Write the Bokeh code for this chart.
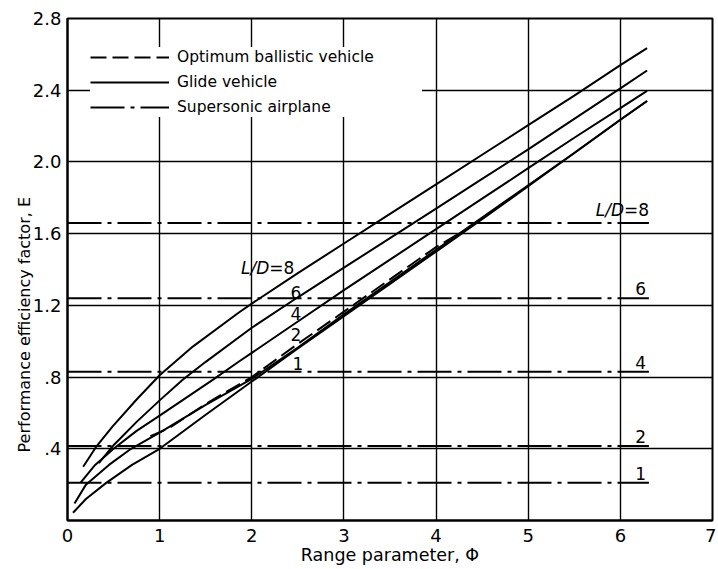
from bokeh.plotting import figure
from bokeh.models import Range1d, FixedTicker, Legend, LegendItem, Label, ColumnDataSource, Title
from bokeh.embed import file_html
from bokeh.resources import INLINE

# ---------------- data ----------------
# Glide vehicle curves, one per L/D
g8_phi = [0.17, 0.31, 0.49, 0.75, 1.0, 1.36, 1.86, 2.0, 2.5, 3.0, 3.5, 4.0, 4.5, 5.0, 5.5, 6.0, 6.29]
g8_E = [0.30, 0.41, 0.525, 0.675, 0.81, 0.97, 1.16, 1.21, 1.38, 1.545, 1.71, 1.875, 2.04, 2.205, 2.37, 2.54, 2.635]

g6_phi = [0.34, 0.5, 0.75, 1.0, 1.25, 1.5, 2.0, 2.5, 3.0, 3.5, 4.0, 4.5, 5.0, 5.5, 6.0, 6.29]
g6_E = [0.32, 0.42, 0.55, 0.67, 0.785, 0.885, 1.075, 1.245, 1.41, 1.575, 1.74, 1.905, 2.07, 2.24, 2.41, 2.51]

g4_phi = [0.14, 0.3, 0.5, 0.75, 1.0, 1.58, 1.865, 2.0, 2.5, 3.0, 3.5, 4.0, 4.5, 5.0, 5.5, 6.0, 6.29]
g4_E = [0.21, 0.31, 0.40, 0.50, 0.585, 0.786, 0.888, 0.935, 1.11, 1.285, 1.455, 1.625, 1.795, 1.965, 2.135, 2.30, 2.396]

g2_phi = [0.076, 0.2, 0.45, 0.69, 1.0, 1.5, 2.0, 2.5, 3.0, 3.5, 4.0, 4.5, 5.0, 5.5, 6.0, 6.29]
g2_E = [0.095, 0.20, 0.31, 0.40, 0.49, 0.645, 0.79, 0.965, 1.15, 1.33, 1.51, 1.69, 1.87, 2.05, 2.235, 2.34]

g1_phi = [0.06, 0.2, 0.42, 0.7, 1.0, 1.5, 2.0, 2.5, 3.0, 3.5, 4.0, 4.5, 5.0, 5.5, 6.0, 6.29]
g1_E = [0.043, 0.12, 0.21, 0.31, 0.40, 0.59, 0.775, 0.96, 1.14, 1.32, 1.50, 1.68, 1.865, 2.05, 2.235, 2.34]

# Optimum ballistic vehicle
bal_phi = [0.9, 1.1, 1.5, 1.865, 2.0, 2.5, 3.0, 3.5, 4.0, 4.23]
bal_E = [0.47, 0.515, 0.65, 0.76, 0.80, 0.985, 1.165, 1.345, 1.525, 1.595]

# Supersonic airplane (constant E for each L/D)
ss_labels = ["L/D=8", "6", "4", "2", "1"]
ss_E = [1.66, 1.24, 0.83, 0.415, 0.21]
ss_phi_start = 0.0
ss_phi_end = 6.31

# axis ticks
x_ticks = [0, 1, 2, 3, 4, 5, 6, 7]
x_tick_labels = ["0", "1", "2", "3", "4", "5", "6", "7"]
y_ticks = [0.4, 0.8, 1.2, 1.6, 2.0, 2.4, 2.8]
y_tick_labels = [".4", ".8", "1.2", "1.6", "2.0", "2.4", "2.8"]
grid_x = [1, 2, 3, 4, 5, 6]
grid_y = [0.4, 0.8, 1.2, 1.6, 2.0, 2.4]

# ---------------- figure ----------------
FONT = "DejaVu Sans"
p = figure(width=716, height=569, output_backend="svg", toolbar_location=None,
           x_range=Range1d(0, 7), y_range=Range1d(0, 2.8),
           min_border_left=67, min_border_right=4, min_border_top=18, min_border_bottom=49)
p.background_fill_color = "white"
p.border_fill_color = "white"
p.outline_line_color = "black"
p.outline_line_width = 2

p.xaxis.ticker = FixedTicker(ticks=x_ticks)
p.xaxis.major_label_overrides = {t: s for t, s in zip(x_ticks, x_tick_labels)}
p.yaxis.ticker = FixedTicker(ticks=y_ticks)
p.yaxis.major_label_overrides = {t: s for t, s in zip(y_ticks, y_tick_labels)}
for ax in (p.xaxis, p.yaxis):
    ax.major_tick_out = 0
    ax.major_tick_in = 0
    ax.minor_tick_out = 0
    ax.minor_tick_in = 0
    ax.axis_line_color = "black"
    ax.axis_line_width = 2
    ax.major_label_text_font = FONT
    ax.major_label_text_font_size = "18px"
    ax.major_label_text_color = "black"
    ax.axis_label_text_font = FONT
    ax.axis_label_text_font_style = "normal"
    ax.axis_label_text_color = "black"
p.xaxis.axis_label = "Range parameter, Φ"
p.xaxis.axis_label_text_font_size = "17.5px"
p.xaxis.major_label_standoff = 8
p.xaxis.axis_label_standoff = 0
p.yaxis.major_label_standoff = 6

p.xgrid.ticker = FixedTicker(ticks=grid_x)
p.ygrid.ticker = FixedTicker(ticks=grid_y)
for g in (p.xgrid, p.ygrid):
    g.grid_line_color = "black"
    g.grid_line_width = 1.4
    g.grid_line_alpha = 1.0

# y-axis title, placed a little below the centre as in the reference
p.add_layout(Title(text="Performance efficiency factor, E", align="left", offset=68,
                   text_font=FONT, text_font_size="16px", text_font_style="normal",
                   text_color="black", standoff=-8), "left")

LW = 2.0
r_g8 = p.line(g8_phi, g8_E, line_color="black", line_width=LW)
p.line(g6_phi, g6_E, line_color="black", line_width=LW)
p.line(g4_phi, g4_E, line_color="black", line_width=LW)
p.line(g2_phi, g2_E, line_color="black", line_width=LW)
p.line(g1_phi, g1_E, line_color="black", line_width=LW)

r_bal = p.line(bal_phi, bal_E, line_color="black", line_width=LW, line_dash="16 6")

ss_src = ColumnDataSource(dict(x0=[ss_phi_start] * len(ss_E), x1=[ss_phi_end] * len(ss_E),
                               y=ss_E, label=ss_labels))
r_ss = p.segment(x0="x0", y0="y", x1="x1", y1="y", source=ss_src,
                 line_color="black", line_width=LW, line_dash="34 6 4 6")

# labels at right end of the supersonic lines
for lab, e in zip(ss_labels, ss_E):
    if lab.startswith("L/D"):
        p.add_layout(Label(x=6.04, y=e, y_offset=3, text="L/D", text_align="right",
                           text_baseline="bottom", text_font=FONT, text_font_style="italic",
                           text_font_size="17px", text_color="black"))
        p.add_layout(Label(x=6.04, y=e, y_offset=3, text="=" + lab.split("=")[1], text_align="left",
                           text_baseline="bottom", text_font=FONT,
                           text_font_size="17px", text_color="black"))
    else:
        p.add_layout(Label(x=6.22, y=e, y_offset=3, text=lab, text_align="center",
                           text_baseline="bottom", text_font=FONT,
                           text_font_size="17px", text_color="black"))

# labels of the glide curves
p.add_layout(Label(x=2.19, y=1.41, text="L/D", text_align="right", text_baseline="middle",
                   text_font=FONT, text_font_style="italic", text_font_size="17px", text_color="black"))
p.add_layout(Label(x=2.19, y=1.41, text="=8", text_align="left", text_baseline="middle",
                   text_font=FONT, text_font_size="17px", text_color="black"))
glide_lab_text = ["6", "4", "2", "1"]
glide_lab_phi = [2.48, 2.48, 2.48, 2.50]
glide_lab_E = [1.272, 1.157, 1.036, 0.878]
for t, x, y in zip(glide_lab_text, glide_lab_phi, glide_lab_E):
    p.add_layout(Label(x=x, y=y, text=t, text_align="center", text_baseline="middle",
                       text_font=FONT, text_font_size="17px", text_color="black"))

legend = Legend(items=[LegendItem(label="Optimum ballistic vehicle", renderers=[r_bal]),
                       LegendItem(label="Glide vehicle", renderers=[r_g8]),
                       LegendItem(label="Supersonic airplane", renderers=[r_ss], index=0)],
                location=(23, 403), orientation="vertical",
                glyph_width=79, glyph_height=20, label_height=20, label_width=245, spacing=5,
                label_standoff=8, padding=10, margin=0,
                label_text_font=FONT, label_text_font_size="15.5px", label_text_color="black",
                border_line_color=None, background_fill_color="white", background_fill_alpha=1.0)
p.add_layout(legend)

open("out.html", "w").write(file_html(p, INLINE))
